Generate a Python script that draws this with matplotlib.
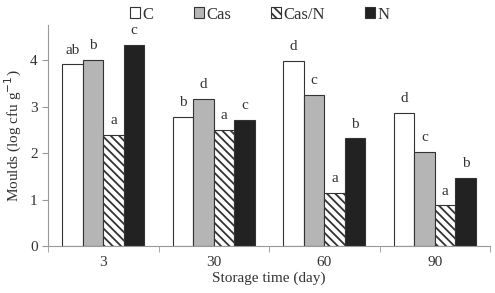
import numpy as np
import matplotlib.pyplot as plt
from matplotlib.patches import Patch

days = ['3', '30', '60', '90']
series = ['C', 'Cas', 'Cas/N', 'N']
c_vals = [3.91, 2.79, 3.98, 2.87]
cas_vals = [4.01, 3.17, 3.25, 2.03]
casn_vals = [2.40, 2.50, 1.14, 0.88]
n_vals = [4.32, 2.71, 2.32, 1.47]
letters = [
    ['ab', 'b', 'd', 'd'],
    ['b', 'd', 'c', 'c'],
    ['a', 'a', 'a', 'a'],
    ['c', 'c', 'b', 'b'],
]

plt.rcParams['font.family'] = ['Liberation Serif', 'DejaVu Serif']
plt.rcParams['hatch.linewidth'] = 1.3

fig = plt.figure(figsize=(4.95, 2.93), dpi=100)
ax = fig.add_axes([0.097, 0.159, 0.893, 0.756])

x = np.arange(len(days))
w = 0.185
colors = ['white', '#b5b5b5', 'white', '#222222']
hatches = [None, None, '\\\\\\\\', None]
all_vals = [c_vals, cas_vals, casn_vals, n_vals]
for i, vals in enumerate(all_vals):
    pos = x + (i - 1.5) * w
    ax.bar(pos, vals, w, color=colors[i], edgecolor='#333333', linewidth=0.8,
           hatch=hatches[i])
    for p, v, lab in zip(pos, vals, letters[i]):
        ax.text(p, v + 0.17, lab, ha='center', va='bottom', fontsize=11, color='#333333')

ax.set_xlim(-0.5, 3.5)
ax.set_ylim(0, 4.76)
ax.set_xticks(x)
ax.set_xticklabels(days)
ax.set_xticks(np.arange(-0.5, 4, 1), minor=True)
ax.tick_params(axis='x', which='major', length=0, labelsize=11, pad=7, colors='#333333')
ax.tick_params(axis='x', which='minor', length=4, color='#999999', direction='out')
ax.set_yticks([0, 1, 2, 3, 4])
ax.tick_params(axis='y', length=4, color='#999999', labelsize=11, colors='#333333')
for s in ['top', 'right']:
    ax.spines[s].set_visible(False)
for s in ['left', 'bottom']:
    ax.spines[s].set_color('#999999')
ax.set_xlabel('Storage time (day)', fontsize=11, color='#333333', labelpad=2)
ax.set_ylabel('Moulds (log cfu g$^{-1}$)', fontsize=11, color='#333333', labelpad=4)

handles = [Patch(facecolor=colors[i], edgecolor='#333333', hatch=hatches[i], linewidth=0.8)
           for i in range(4)]
fig.legend(handles, series, loc='center', bbox_to_anchor=(0.525, 0.95), ncol=4,
           frameon=False, fontsize=12, handlelength=0.6, handleheight=0.6,
           handletextpad=0.15, columnspacing=2.4, labelcolor='#333333')

fig.savefig('out.png', dpi=100)
